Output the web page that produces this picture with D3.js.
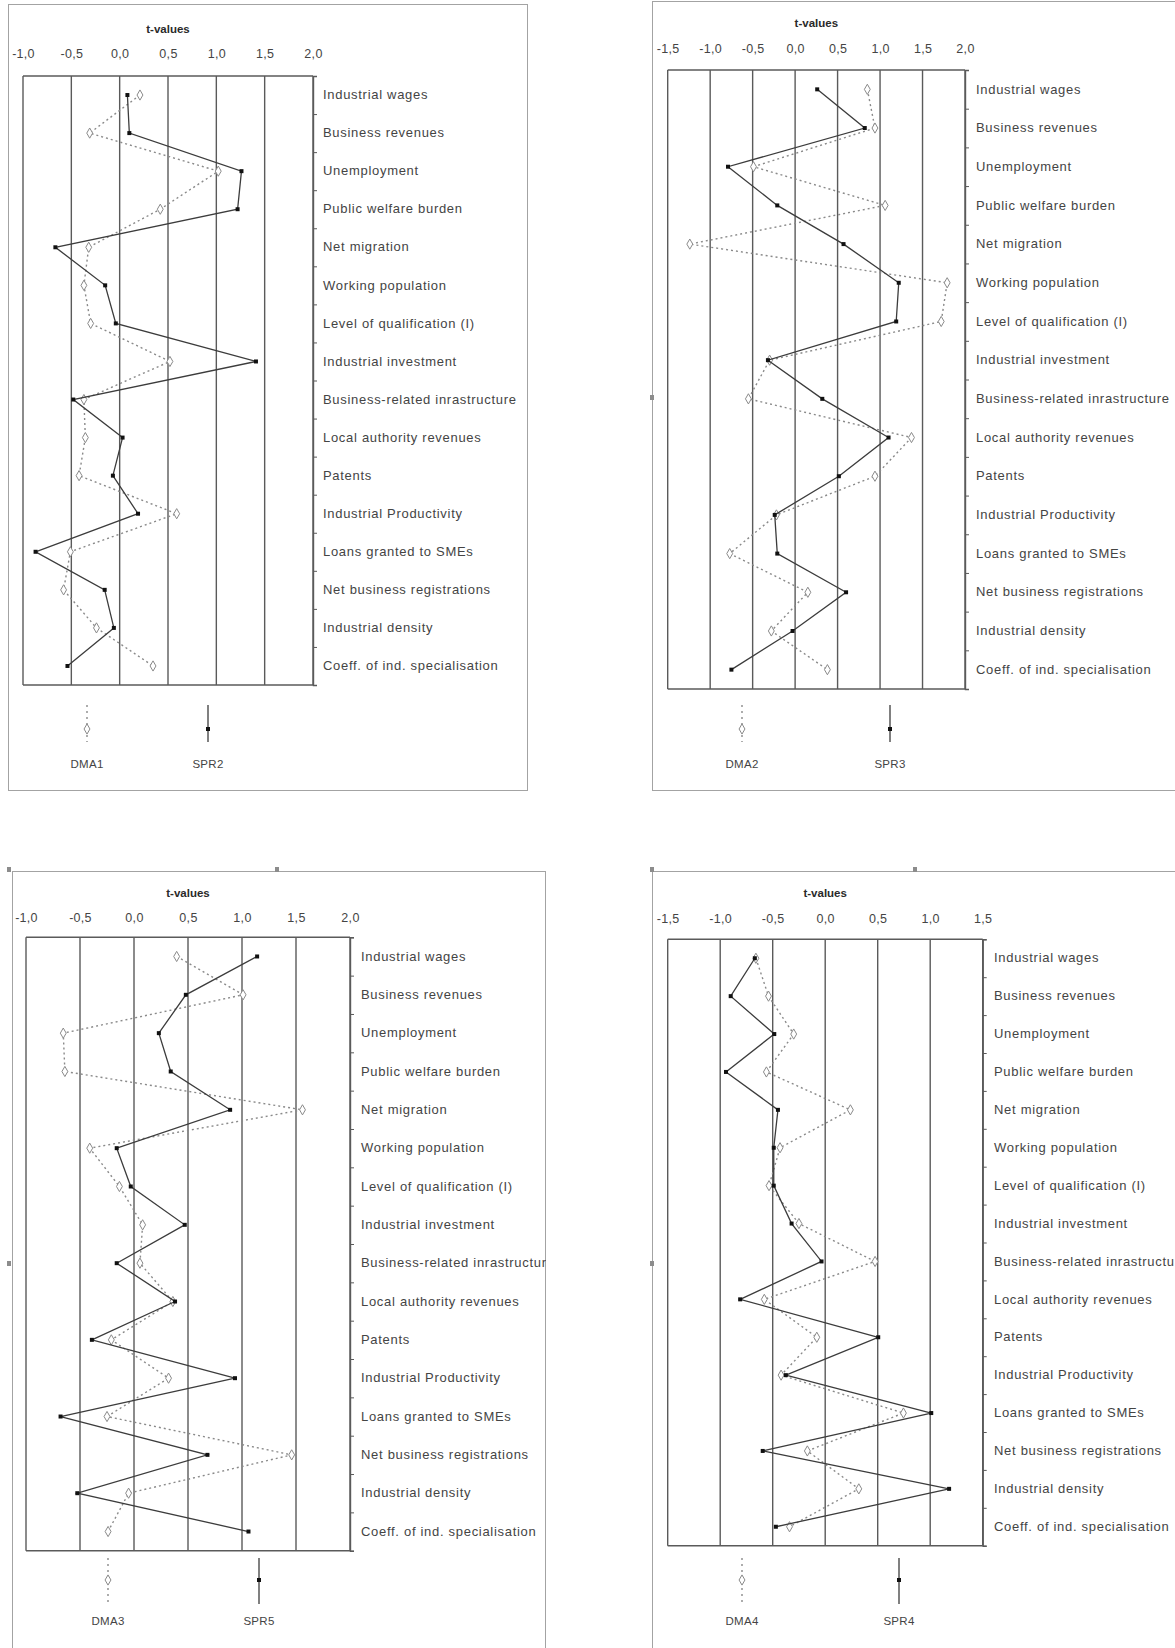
<!DOCTYPE html>
<html><head><meta charset="utf-8">
<script src="https://cdn.jsdelivr.net/npm/d3@7"></script>
<style>
html,body{margin:0;padding:0;background:#fff;}
svg{display:block;}
text{font-family:"Liberation Sans",Arial,sans-serif;}
</style></head>
<body>
<svg id="chart" width="1175" height="1648"></svg>
<script>
const categories = ["Industrial wages","Business revenues","Unemployment","Public welfare burden","Net migration","Working population","Level of qualification (I)","Industrial investment","Business-related inrastructure","Local authority revenues","Patents","Industrial Productivity","Loans granted to SMEs","Net business registrations","Industrial density","Coeff. of ind. specialisation"];

const ticks1 = [-1.0,-0.5,0.0,0.5,1.0,1.5,2.0];
const ticks2 = [-1.5,-1.0,-0.5,0.0,0.5,1.0,1.5,2.0];
const ticks3 = [-1.0,-0.5,0.0,0.5,1.0,1.5,2.0];
const ticks4 = [-1.5,-1.0,-0.5,0.0,0.5,1.0,1.5];

const seriesNames1 = ["DMA1","SPR2"];
const seriesNames2 = ["DMA2","SPR3"];
const seriesNames3 = ["DMA3","SPR5"];
const seriesNames4 = ["DMA4","SPR4"];

const dma1 = [0.21,-0.31,1.02,0.42,-0.32,-0.37,-0.30,0.52,-0.37,-0.355,-0.42,0.59,-0.51,-0.58,-0.24,0.345];
const spr2 = [0.08,0.10,1.26,1.22,-0.665,-0.15,-0.04,1.41,-0.48,0.03,-0.07,0.19,-0.87,-0.155,-0.06,-0.54];
const dma2 = [0.85,0.94,-0.49,1.06,-1.24,1.79,1.72,-0.30,-0.55,1.37,0.94,-0.22,-0.77,0.15,-0.28,0.38];
const spr3 = [0.26,0.82,-0.79,-0.21,0.57,1.22,1.19,-0.32,0.32,1.10,0.515,-0.24,-0.21,0.60,-0.03,-0.75];
const dma3 = [0.395,1.01,-0.655,-0.64,1.56,-0.41,-0.135,0.08,0.055,0.36,-0.21,0.32,-0.25,1.46,-0.05,-0.24];
const spr5 = [1.14,0.48,0.23,0.34,0.89,-0.16,-0.03,0.47,-0.16,0.38,-0.39,0.935,-0.68,0.68,-0.525,1.06];
const dma4 = [-0.66,-0.54,-0.30,-0.56,0.24,-0.43,-0.535,-0.25,0.475,-0.58,-0.08,-0.42,0.745,-0.17,0.32,-0.34];
const spr4 = [-0.67,-0.90,-0.485,-0.945,-0.45,-0.49,-0.49,-0.32,-0.035,-0.81,0.505,-0.375,1.01,-0.595,1.18,-0.47];

const panels = [
  {id:1, ticks:ticks1, names:seriesNames1, dotted:dma1, solid:spr2,
   frame:[8,4,528,791], px:[23,313], py:[76,685], labelX:323, tickY:53, titleY:29,
   legX:[87,208], legY:[705,742], legM:729, legL:764, marks:[]},
  {id:2, ticks:ticks2, names:seriesNames2, dotted:dma2, solid:spr3,
   frame:[652,1,1180,791], px:[667.7,965], py:[70,689], labelX:976, tickY:48, titleY:23,
   legX:[742,890], legY:[705,742], legM:729, legL:764, marks:[[650,395]]},
  {id:3, ticks:ticks3, names:seriesNames3, dotted:dma3, solid:spr5,
   frame:[12,871,546,1652], px:[26,350], py:[937.3,1550.7], labelX:361, tickY:917, titleY:893,
   legX:[108,259], legY:[1558,1604], legM:1580, legL:1621, marks:[[7,867],[275,867],[7,1261]]},
  {id:4, ticks:ticks4, names:seriesNames4, dotted:dma4, solid:spr4,
   frame:[652,871,1180,1652], px:[667.7,982.7], py:[939.3,1545.7], labelX:994, tickY:918, titleY:893,
   legX:[742,899], legY:[1558,1604], legM:1580, legL:1621, marks:[[650,867],[913,867],[650,1261]]}
];

const svg = d3.select("#chart");
const fmt = d => (d < 0 ? "-" : "") + Math.abs(d).toFixed(1).replace(".", ",");
const diamond = d3.symbol().type(d3.symbolDiamond).size(30);
const square = d3.symbol().type(d3.symbolSquare).size(16);

panels.forEach(p => {
  const [fx0, fy0, fx1, fy1] = p.frame;
  const clipId = "clip" + p.id;
  svg.append("clipPath").attr("id", clipId)
    .append("rect").attr("x", fx0).attr("y", fy0).attr("width", fx1 - fx0).attr("height", fy1 - fy0);
  const g = svg.append("g").attr("clip-path", `url(#${clipId})`);

  g.append("rect").attr("x", fx0).attr("y", fy0).attr("width", fx1 - fx0).attr("height", fy1 - fy0)
    .attr("fill", "#fff").attr("stroke", "#a3a3a3").attr("stroke-width", 2);

  const x = d3.scaleLinear().domain([p.ticks[0], p.ticks[p.ticks.length - 1]]).range(p.px);
  const yb = d3.scaleBand().domain(categories).range(p.py).padding(0);
  const yl = d3.scaleLinear().domain([0, categories.length]).range(p.py);

  // gridlines
  g.append("g").selectAll("line").data(p.ticks).join("line")
    .attr("x1", d => x(d)).attr("x2", d => x(d))
    .attr("y1", p.py[0]).attr("y2", p.py[1])
    .attr("stroke", "#5a5a5a").attr("stroke-width", 1.4);
  [p.py[0], p.py[1]].forEach(yy => {
    g.append("line").attr("x1", p.px[0]).attr("x2", p.px[1]).attr("y1", yy).attr("y2", yy)
      .attr("stroke", "#5a5a5a").attr("stroke-width", 1.4);
  });

  // top axis labels
  const ax = g.append("g").attr("transform", `translate(0,${p.py[0]})`)
    .call(d3.axisTop(x).tickValues(p.ticks).tickSize(0).tickPadding(p.py[0] - p.tickY - 4.5).tickFormat(fmt));
  ax.select(".domain").remove();
  ax.selectAll("text").attr("font-size", 12.5).attr("fill", "#444")
    .attr("letter-spacing", "0.3px")
    .attr("font-family", "'Liberation Sans',Arial,sans-serif");

  g.append("text").attr("x", (p.px[0] + p.px[1]) / 2).attr("y", p.titleY + 4)
    .attr("text-anchor", "middle").attr("font-size", 11.5).attr("font-weight", "bold")
    .attr("fill", "#2a2a2a").text("t-values");

  // right axis ticks at band boundaries
  const ar = g.append("g").attr("transform", `translate(${p.px[1]},0)`)
    .call(d3.axisRight(yl).tickValues(d3.range(0, categories.length + 1)).tickSize(4).tickFormat(""));
  ar.select(".domain").attr("stroke", "#5a5a5a").attr("stroke-width", 1.4);
  ar.selectAll(".tick line").attr("stroke", "#5a5a5a").attr("stroke-width", 1);

  // right labels
  const al = g.append("g").attr("transform", `translate(${p.labelX},0)`)
    .call(d3.axisRight(yb).tickSize(0).tickPadding(0));
  al.select(".domain").remove();
  al.selectAll("text").attr("font-size", 13).attr("fill", "#444")
    .attr("letter-spacing", "0.7px")
    .attr("font-family", "'Liberation Sans',Arial,sans-serif");

  const cy = c => yb(c) + yb.bandwidth() / 2;
  const line = d3.line().x(d => x(d.v)).y(d => cy(d.c));
  const dd = categories.map((c, i) => ({c, v: p.dotted[i]}));
  const sd = categories.map((c, i) => ({c, v: p.solid[i]}));

  g.append("path").datum(dd).attr("d", line).attr("fill", "none")
    .attr("stroke", "#8a8a8a").attr("stroke-width", 1.4).attr("stroke-dasharray", "2,3");
  g.append("g").selectAll("path").data(dd).join("path")
    .attr("d", diamond).attr("transform", d => `translate(${x(d.v)},${cy(d.c)})`)
    .attr("fill", "#fff").attr("stroke", "#8a8a8a").attr("stroke-width", 1);

  g.append("path").datum(sd).attr("d", line).attr("fill", "none")
    .attr("stroke", "#3c3c3c").attr("stroke-width", 1.3);
  g.append("g").selectAll("path").data(sd).join("path")
    .attr("d", square).attr("transform", d => `translate(${x(d.v)},${cy(d.c)})`)
    .attr("fill", "#111");

  // legend
  const lg = g.append("g");
  lg.append("line").attr("x1", p.legX[0]).attr("x2", p.legX[0]).attr("y1", p.legY[0]).attr("y2", p.legY[1])
    .attr("stroke", "#8a8a8a").attr("stroke-width", 1.4).attr("stroke-dasharray", "2,4");
  lg.append("path").attr("d", diamond).attr("transform", `translate(${p.legX[0]},${p.legM})`)
    .attr("fill", "#fff").attr("stroke", "#8a8a8a");
  lg.append("line").attr("x1", p.legX[1]).attr("x2", p.legX[1]).attr("y1", p.legY[0]).attr("y2", p.legY[1])
    .attr("stroke", "#3c3c3c").attr("stroke-width", 1.3);
  lg.append("path").attr("d", square).attr("transform", `translate(${p.legX[1]},${p.legM})`)
    .attr("fill", "#111");
  p.names.forEach((n, i) => {
    lg.append("text").attr("x", p.legX[i]).attr("y", p.legL + 4).attr("text-anchor", "middle")
      .attr("font-size", 11.5).attr("fill", "#444").attr("letter-spacing", "0.3px").text(n);
  });

  // small selection-handle marks on the frames
  svg.append("g").selectAll("rect").data(p.marks).join("rect")
    .attr("x", d => d[0]).attr("y", d => d[1]).attr("width", 4).attr("height", 5)
    .attr("fill", "#8c8c8c");
});
</script>
</body></html>
